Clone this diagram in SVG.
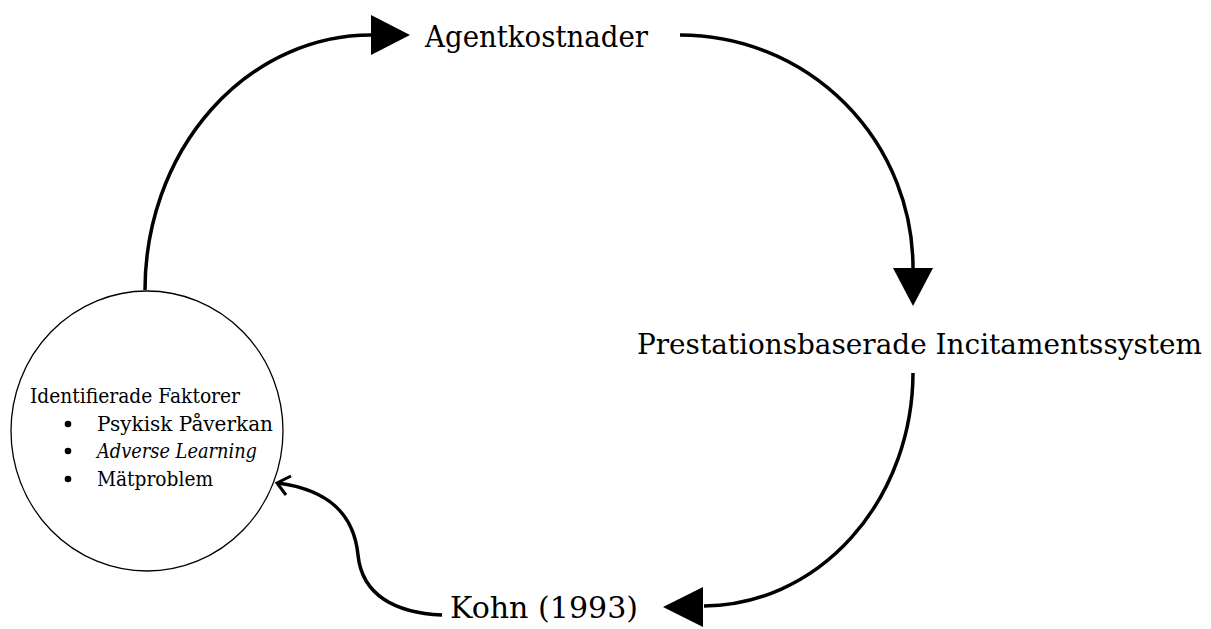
<svg xmlns="http://www.w3.org/2000/svg" width="1211" height="629" viewBox="0 0 1211 629">
<style>
.lbl{font-family:"DejaVu Serif","Liberation Serif",serif;fill:#000}
.big{font-size:30px}
.small{font-size:20px}
.conn{fill:none;stroke:#000;stroke-width:3.5}
</style>
<rect width="1211" height="629" fill="#fff"/>
<g id="connectors">
<path class="conn" d="M145,290 A226,255 0 0 1 372,35"/>
<path d="M371,15 L410,35 L371,55 Z" fill="#000"/>
<path class="conn" d="M680,35 A233,233 0 0 1 913,269"/>
<path d="M893,268 L933,268 L913,306 Z" fill="#000"/>
<path class="conn" d="M913,373 A210,234 0 0 1 704,606"/>
<path d="M703,587 L703,627 L663,607 Z" fill="#000"/>
<path class="conn" d="M442,615 C395,613 362,595 358,555 C354,515 330,490 278,483" stroke-width="3"/>
<path d="M291,476 L277,483 L286,495" fill="none" stroke="#000" stroke-width="3"/>
</g>
<g id="node-agentkostnader">
<text class="lbl big" x="425" y="47" textLength="223" lengthAdjust="spacingAndGlyphs">Agentkostnader</text>
</g>
<g id="node-prestation">
<text class="lbl" font-size="28" x="637" y="354" textLength="565" lengthAdjust="spacingAndGlyphs">Prestationsbaserade Incitamentssystem</text>
</g>
<g id="node-kohn">
<text class="lbl big" x="450" y="618" textLength="188" lengthAdjust="spacingAndGlyphs">Kohn (1993)</text>
</g>
<g id="node-faktorer">
<ellipse cx="147" cy="431" rx="136" ry="140" fill="#fff" stroke="#000" stroke-width="1.3"/>
<text class="lbl small" x="30" y="403" textLength="210" lengthAdjust="spacingAndGlyphs">Identifierade Faktorer</text>
<circle cx="68" cy="424" r="3.3"/>
<circle cx="68" cy="451" r="3.3"/>
<circle cx="68" cy="479" r="3.3"/>
<text class="lbl small" x="97" y="431" textLength="176" lengthAdjust="spacingAndGlyphs">Psykisk Påverkan</text>
<text class="lbl small" x="97" y="458" font-style="italic" textLength="160" lengthAdjust="spacingAndGlyphs">Adverse Learning</text>
<text class="lbl small" x="97" y="486" textLength="116" lengthAdjust="spacingAndGlyphs">Mätproblem</text>
</g>
</svg>
